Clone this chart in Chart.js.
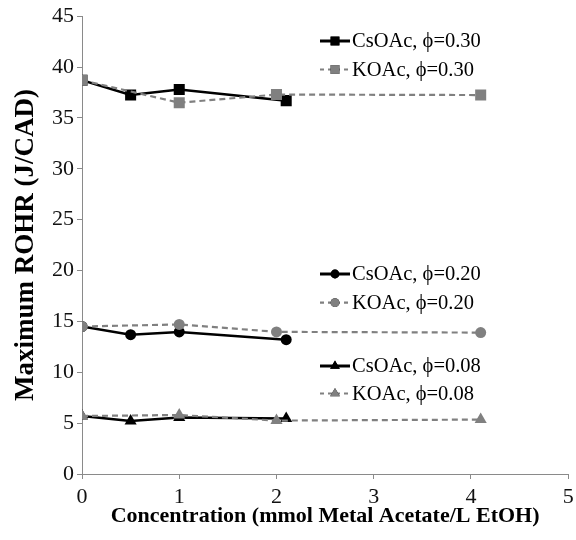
<!DOCTYPE html>
<html>
<head>
<meta charset="utf-8">
<script src="https://cdn.jsdelivr.net/npm/chart.js@4"></script>
<style>
  html, body { margin: 0; padding: 0; background: #fff; }
  #wrap { width: 576px; height: 540px; }
</style>
</head>
<body>
<div id="wrap"><canvas id="c" width="576" height="540"></canvas></div>
<script>
// ---- data ----
const csConc = [0, 0.5, 1, 2.1];
const kConc = [0, 1, 2, 4.1];
const cs030 = [38.7, 37.25, 37.8, 36.7];
const k030 = [38.7, 36.5, 37.3, 37.25];
const cs020 = [14.5, 13.7, 13.97, 13.2];
const k020 = [14.5, 14.7, 13.97, 13.9];
const cs008 = [5.7, 5.2, 5.55, 5.45];
const k008 = [5.7, 5.8, 5.25, 5.35];
const seriesLabels = ['CsOAc, \u03d5=0.30', 'KOAc, \u03d5=0.30', 'CsOAc, \u03d5=0.20', 'KOAc, \u03d5=0.20', 'CsOAc, \u03d5=0.08', 'KOAc, \u03d5=0.08'];
const xTitle = 'Concentration (mmol Metal Acetate/L EtOH)';
const yTitle = 'Maximum ROHR (J/CAD)';

const BLACK = '#000000';
const GRAY = '#808080';
const AXIS = '#8a8a8a';
const SERIF = '"Liberation Serif", "Times New Roman", serif';

function pts(xs, ys) { return xs.map((x, i) => ({ x: x, y: ys[i] })); }

function csSet(label, ys, style, r) {
  return {
    label: label, data: pts(csConc, ys), order: 1,
    borderColor: BLACK, backgroundColor: BLACK, borderWidth: 2.5,
    pointStyle: style, pointRadius: r, pointBorderWidth: 0,
    pointBackgroundColor: BLACK, tension: 0, fill: false
  };
}
function kSet(label, ys, style, r) {
  return {
    label: label, data: pts(kConc, ys), order: 0,
    borderColor: GRAY, backgroundColor: GRAY, borderWidth: 2.2,
    borderDash: [6, 4],
    pointStyle: style, pointRadius: r, pointBorderWidth: 0,
    pointBackgroundColor: GRAY, tension: 0, fill: false
  };
}

const datasets = [
  csSet(seriesLabels[0], cs030, 'rect', 7.8),
  kSet(seriesLabels[1], k030, 'rect', 7.8),
  csSet(seriesLabels[2], cs020, 'circle', 5.5),
  kSet(seriesLabels[3], k020, 'circle', 5.5),
  csSet(seriesLabels[4], cs008, 'triangle', 7),
  kSet(seriesLabels[5], k008, 'triangle', 7)
];

// legend groups: [dataset index, row y]
const legendRows = [
  [0, 41], [1, 69.5],
  [2, 274], [3, 302.7],
  [4, 366], [5, 393.5]
];

const groupLegend = {
  id: 'groupLegend',
  afterDraw(chart) {
    const ctx = chart.ctx;
    ctx.save();
    legendRows.forEach(([di, y]) => {
      const ds = chart.data.datasets[di];
      const x0 = 320, x1 = 350, xm = 335, xt = 352;
      ctx.beginPath();
      ctx.strokeStyle = ds.borderColor;
      ctx.lineWidth = ds.borderColor === BLACK ? 3 : 2.2;
      ctx.setLineDash(ds.borderDash ? [4, 4] : []);
      ctx.moveTo(x0, y);
      ctx.lineTo(x1, y);
      ctx.stroke();
      ctx.setLineDash([]);
      Chart.helpers.drawPoint(ctx, {
        pointStyle: ds.pointStyle,
        radius: ds.pointRadius * 0.8,
        rotation: 0,
        borderWidth: 0
      }, xm, y);
      ctx.fillStyle = ds.pointBackgroundColor;
      ctx.fill();
      ctx.fillStyle = '#000';
      ctx.font = '20.5px ' + SERIF;
      ctx.textAlign = 'left';
      ctx.textBaseline = 'middle';
      ctx.fillText(ds.label, xt, y + 1);
    });
    ctx.restore();
  }
};

new Chart(document.getElementById('c'), {
  type: 'line',
  data: { datasets: datasets },
  plugins: [groupLegend],
  options: {
    responsive: false,
    animation: false,
    layout: { padding: { left: 0, right: 6, top: 15, bottom: 0 } },
    plugins: { legend: { display: false }, tooltip: { enabled: false } },
    scales: {
      x: {
        type: 'linear', min: 0, max: 5,
        ticks: { stepSize: 1, color: '#111', font: { family: SERIF, size: 22 }, padding: 5 },
        grid: { display: true, drawOnChartArea: false, drawTicks: true, tickLength: 5, color: AXIS, lineWidth: 1 },
        border: { display: true, color: AXIS, width: 1 },
        title: { display: true, text: xTitle, color: '#000',
          font: { family: SERIF, size: 22, weight: 'bold', lineHeight: 1 },
          padding: { top: 0, bottom: 13 } },
        afterFit(scale) { scale.height = 66; scale.paddingRight = 0; scale.paddingLeft = 0; }
      },
      y: {
        type: 'linear', min: 0, max: 45,
        ticks: { stepSize: 5, color: '#111', font: { family: SERIF, size: 22 }, padding: 3 },
        grid: { display: true, drawOnChartArea: false, drawTicks: true, tickLength: 5, color: AXIS, lineWidth: 1 },
        border: { display: true, color: AXIS, width: 1 },
        title: { display: true, text: yTitle, color: '#000',
          font: { family: SERIF, size: 27, weight: 'bold', lineHeight: 1 },
          padding: { top: 13, bottom: 0 } },
        afterFit(scale) { scale.width = 82; }
      }
    }
  }
});
</script>
</body>
</html>
